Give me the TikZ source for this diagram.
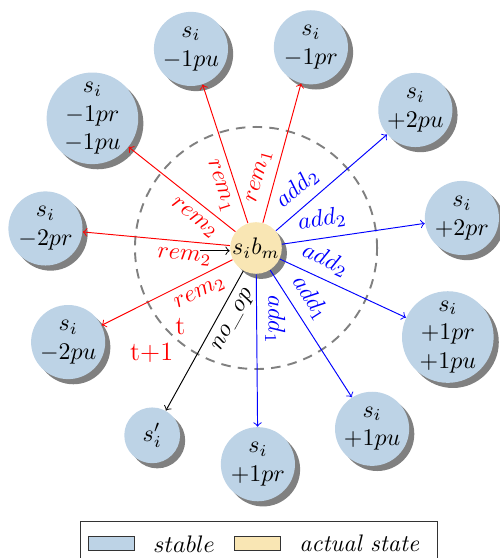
\documentclass[tikz,border=0pt]{standalone}
\usepackage{amsmath}
\usepackage{xcolor}
\usetikzlibrary{positioning,shadows}
\definecolor{stableBlue}{HTML}{BDD3E6}
\definecolor{actualYel}{HTML}{F9E6B4}

\begin{document}
\begin{tikzpicture}[>=to,
  state/.style={circle,fill=stableBlue,inner sep=0pt,minimum size=1.09cm,align=center,
    drop shadow={fill=gray,opacity=1}},
  lbl/.style={sloped,pos=0.3},
  tstep/.style={red,font=\fontsize{11}{13}\selectfont},
  swatch/.style={draw=black!80,minimum width=0.68cm,minimum height=0.21cm,inner sep=0pt}]
\useasboundingbox (-3.765,-4.559) rectangle (3.588,3.647);
% --- border between t and t+1 ---
\draw[gray,line width=0.8pt,dash pattern=on 4pt off 3pt] (0,0) circle (1.78);
% --- actual state ---
\node[state,fill=actualYel,minimum size=0.74cm] (cur) at (0,0) {$s_ib_m$};
% --- successor states ---
\foreach \a/\r/\n/\txt in {108.1/3.08/mpu/{$s_i$\\$-1pu$},
    74.7/3.06/mpr/{$s_i$\\$-1pr$},
    141.6/3.07/mprpu/{$s_i$\\$-1pr$\\$-1pu$},
    40.9/3.10/ppu/{$s_i$\\$+2pu$},
    8.3/3.06/ppr/{$s_i$\\$+2pr$},
    -24.9/3.11/pprpu/{$s_i$\\$+1pr$\\$+1pu$},
    -57.3/3.16/pu/{$s_i$\\$+1pu$},
    -89.5/3.18/pr/{$s_i$\\$+1pr$},
    174.7/3.11/mmpr/{$s_i$\\$-2pr$},
    206.6/3.09/mmpu/{$s_i$\\$-2pu$}}
  \node[state] (\n) at (\a:\r) {\txt};
\node[state,minimum size=0.82cm] (same) at (241:3.15) {$s_i'$};
% --- transitions ---
\draw[->,red] (cur) -- node[lbl,below] {$rem_1$} (mpu);
\draw[->,red] (cur) -- node[lbl,above] {$rem_1$} (mpr);
\draw[->,red] (cur) -- node[lbl,below] {$rem_2$} (mprpu);
\draw[->,red] (cur) -- node[lbl,below] {$rem_2$} (mmpr);
\draw[->,red] (cur) -- node[lbl,below] {$rem_2$} (mmpu);
\draw[->] (cur) -- node[lbl,below] {$no\_op$} (same);
\draw[->,blue] (cur) -- node[lbl,above] {$add_1$} (pr);
\draw[->,blue] (cur) -- node[lbl,above] {$add_1$} (pu);
\draw[->,blue] (cur) -- node[lbl,above] {$add_2$} (pprpu);
\draw[->,blue] (cur) -- node[lbl,above] {$add_2$} (ppr);
\draw[->,blue] (cur) -- node[lbl,above] {$add_2$} (ppu);
\coordinate (in) at (-0.82,-0.04);
\draw[->] (in) -- (in -| cur.west);
\node[tstep] (tnow) at (226:1.6) {t};
\node[tstep] (tnext) at (225:2.17) {t+1};
% --- legend ---
\draw[black!80] (-2.588,-4.75) rectangle (2.662,-4.015);
\node[swatch,fill=stableBlue] (lgS) at (-2.13,-4.35) {};
\node[right=0.15cm of lgS] (lgSt) {$stable$};
\node[swatch,fill=actualYel,right=0.15cm of lgSt] (lgA) {};
\node[right=0.15cm of lgA] (lgAt) {\textit{actual state}};
\end{tikzpicture}
\end{document}
